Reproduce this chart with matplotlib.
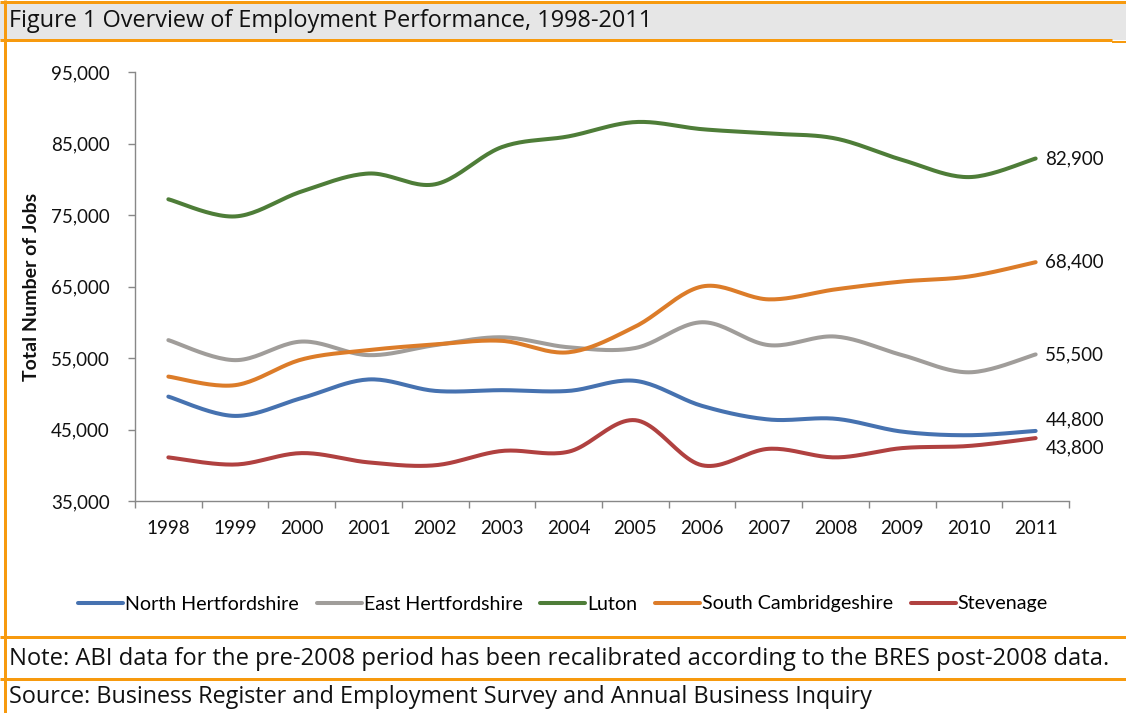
import numpy as np
import matplotlib
matplotlib.use("Agg")
import matplotlib.pyplot as plt
from matplotlib.lines import Line2D
from matplotlib.patches import Rectangle

plt.rcParams['font.family'] = ['Lato', 'DejaVu Sans']

years = [1998, 1999, 2000, 2001, 2002, 2003, 2004, 2005, 2006, 2007, 2008, 2009, 2010, 2011]

north_herts = [49600, 46900, 49400, 52000, 50400, 50500, 50400, 51800, 48300, 46400, 46500, 44700, 44200, 44800]
east_herts = [57500, 54700, 57300, 55400, 56800, 57900, 56500, 56400, 60000, 56800, 58000, 55400, 53000, 55500]
luton = [77200, 74800, 78300, 80800, 79300, 84500, 86000, 88000, 87000, 86400, 85700, 82700, 80300, 82900]
south_cambs = [52400, 51200, 54800, 56100, 56900, 57400, 55800, 59400, 65000, 63200, 64600, 65700, 66400, 68400]
stevenage = [41100, 40100, 41700, 40400, 40000, 42000, 41900, 46300, 40000, 42300, 41100, 42400, 42700, 43800]

series = [
    ("North Hertfordshire", north_herts, "#4672B0"),
    ("East Hertfordshire", east_herts, "#A09D9A"),
    ("Luton", luton, "#4E7D38"),
    ("South Cambridgeshire", south_cambs, "#DC7C29"),
    ("Stevenage", stevenage, "#B04140"),
]

# vertical nudges (pixels) for end labels that would otherwise collide
label_nudge = {"North Hertfordshire": 11, "Stevenage": -10}

y_ticks = [35000, 45000, 55000, 65000, 75000, 85000, 95000]

ORANGE = "#F79A0E"
AXIS_GREY = "#888888"
BAND_FONT = ['Open Sans', 'DejaVu Sans']

W, H = 1126, 713
fig = plt.figure(figsize=(W / 100, H / 100), dpi=100)


def smooth(xs, ys, n=24):
    """Catmull-Rom style cubic Bezier smoothing through every point."""
    xs = np.asarray(xs, float)
    ys = np.asarray(ys, float)
    px = np.concatenate([[xs[0]], xs, [xs[-1]]])
    py = np.concatenate([[ys[0]], ys, [ys[-1]]])
    out_x, out_y = [], []
    t = np.linspace(0, 1, n)
    for i in range(1, len(px) - 2):
        p0 = np.array([px[i], py[i]])
        p3 = np.array([px[i + 1], py[i + 1]])
        c1 = p0 + (np.array([px[i + 1], py[i + 1]]) - np.array([px[i - 1], py[i - 1]])) / 6
        c2 = p3 - (np.array([px[i + 2], py[i + 2]]) - np.array([px[i], py[i]])) / 6
        b = ((1 - t) ** 3)[:, None] * p0 + (3 * (1 - t) ** 2 * t)[:, None] * c1 \
            + (3 * (1 - t) * t ** 2)[:, None] * c2 + (t ** 3)[:, None] * p3
        if i > 1:
            b = b[1:]
        out_x.extend(b[:, 0])
        out_y.extend(b[:, 1])
    return np.array(out_x), np.array(out_y)


# title band and frame
fig.patches.append(Rectangle((0, 1 - 40 / H), 1, 37 / H, transform=fig.transFigure,
                             facecolor="#E6E6E6", edgecolor="none", zorder=0))


def hline(y, x0=0, x1=W, lw=3):
    fig.add_artist(Line2D([x0 / W, x1 / W], [1 - y / H, 1 - y / H], color=ORANGE,
                          lw=lw * 0.72, solid_capstyle="butt"))


def vline(x, y0, y1, lw=3):
    fig.add_artist(Line2D([x / W, x / W], [1 - y0 / H, 1 - y1 / H], color=ORANGE,
                          lw=lw * 0.72, solid_capstyle="butt"))


hline(1.5)
hline(40, 0, 1112)
hline(42, 1112, W, lw=2)
hline(637)
hline(679)
vline(5, 0, H)

fig.text(9 / W, 1 - 21 / H, "Figure 1 Overview of Employment Performance, 1998-2011",
         fontsize=16.9, va="center", ha="left", color="#111111", family=BAND_FONT)
fig.text(9 / W, 1 - 659 / H,
         "Note: ABI data for the pre-2008 period has been recalibrated according to the BRES post-2008 data.",
         fontsize=17.1, va="center", ha="left", color="#111111", family=BAND_FONT)
fig.text(9 / W, 1 - 697 / H, "Source: Business Register and Employment Survey and Annual Business Inquiry",
         fontsize=16.8, va="center", ha="left", color="#111111", family=BAND_FONT)

# chart area
ax = fig.add_axes([135 / W, 1 - 501 / H, (1069 - 135) / W, (501 - 72) / H])
x = np.arange(len(years))
handles = []
for name, vals, col in series:
    sx, sy = smooth(x, vals)
    h, = ax.plot(sx, sy, color=col, lw=2.9, solid_capstyle="round", label=name)
    handles.append(h)
    ax.annotate(f"{vals[-1]:,}", xy=(x[-1], vals[-1]), xytext=(7, label_nudge.get(name, 0) * 0.72),
                textcoords="offset points", ha="left", va="center", fontsize=13.5, color="#111111")

ax.set_xlim(-0.5, len(years) - 0.5)
ax.set_ylim(y_ticks[0], y_ticks[-1])
ax.set_yticks(y_ticks)
ax.set_yticklabels([f"{v:,}" for v in y_ticks])
ax.set_xticks(x)
ax.set_xticklabels([str(y) for y in years])
ax.set_xticks(np.arange(-0.5, len(years), 1.0), minor=True)
ax.tick_params(axis="x", which="major", length=0, pad=14, labelsize=13.5, labelcolor="#111111")
ax.tick_params(axis="x", which="minor", length=5, width=1, color=AXIS_GREY, direction="out")
ax.tick_params(axis="y", which="major", length=5, width=1, color=AXIS_GREY, pad=13,
               labelsize=13.5, labelcolor="#111111")
for s in ("top", "right"):
    ax.spines[s].set_visible(False)
for s in ("left", "bottom"):
    ax.spines[s].set_color(AXIS_GREY)
    ax.spines[s].set_linewidth(1)
ax.set_ylabel("Total Number of Jobs", fontsize=14, fontweight="bold", labelpad=8, color="#111111")

fig.legend(handles=handles, loc="center", bbox_to_anchor=(0.5, 1 - 604 / H), ncol=5, frameon=False,
           fontsize=14.1, handlelength=2.3, handletextpad=0.1, columnspacing=0.9)

fig.savefig("out.png", dpi=100)
